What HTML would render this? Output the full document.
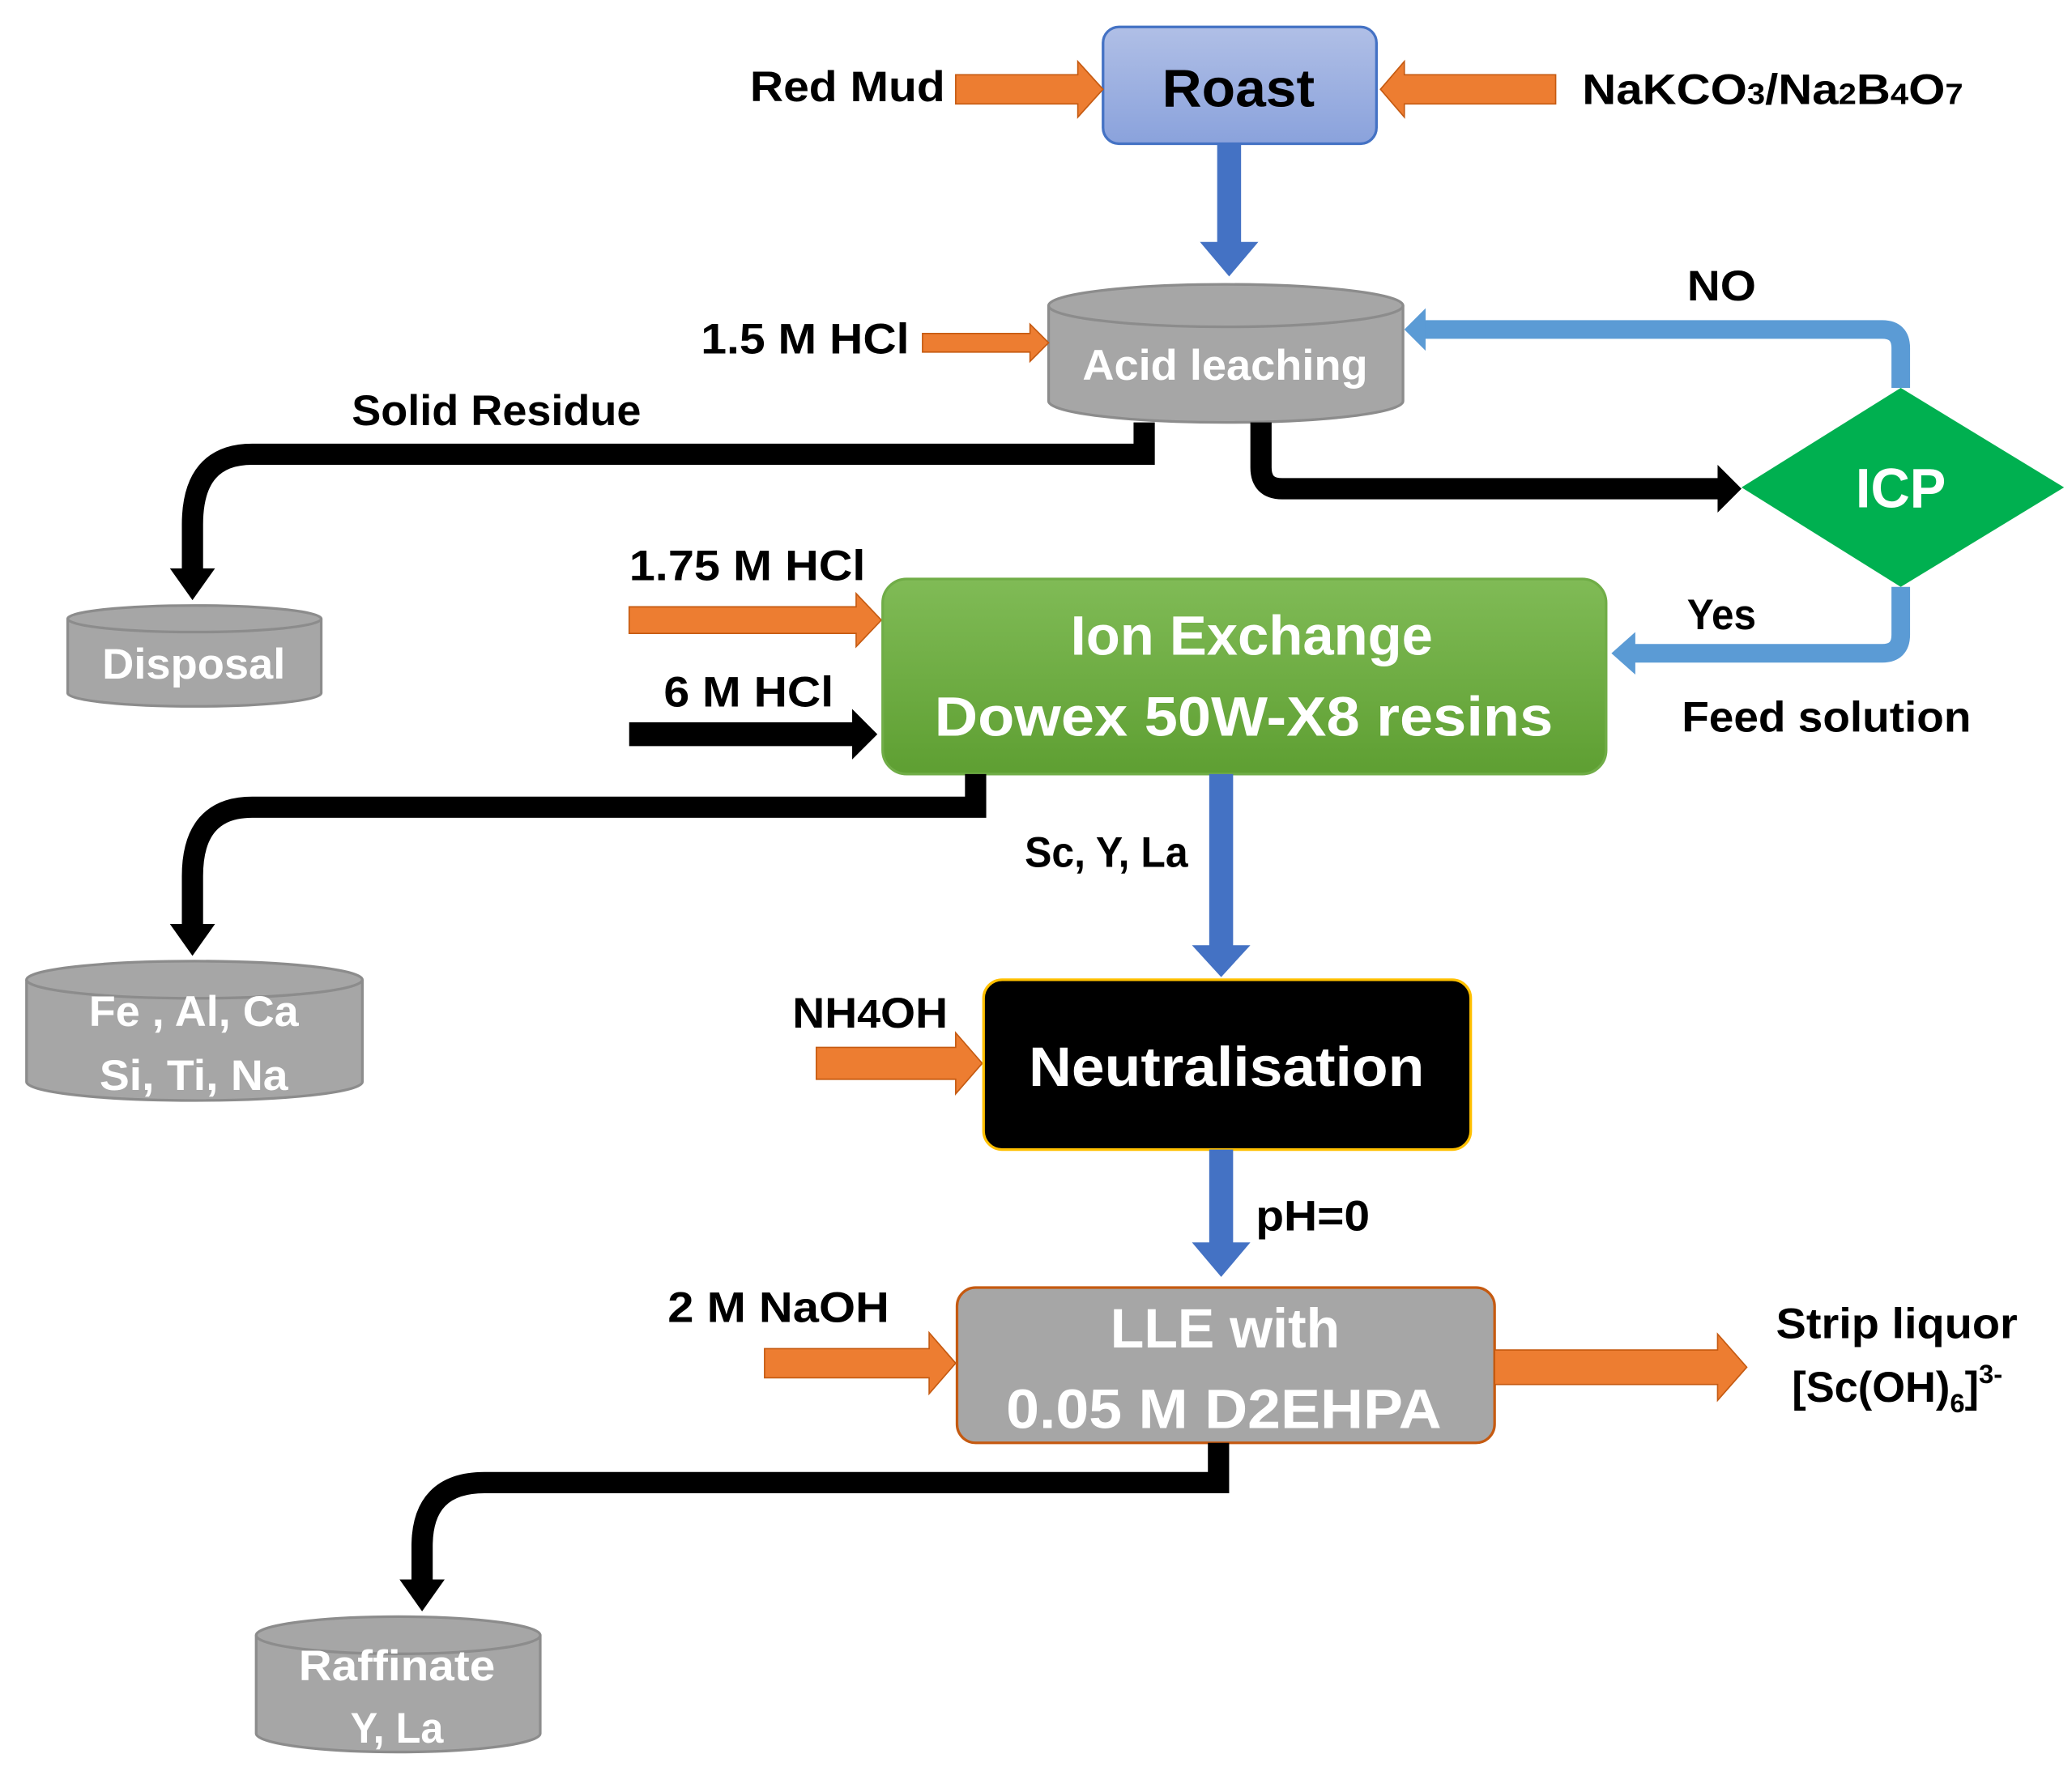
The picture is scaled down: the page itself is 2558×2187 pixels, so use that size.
<!DOCTYPE html>
<html><head><meta charset="utf-8">
<style>
html,body{margin:0;padding:0;background:#fff;}
svg{display:block;}
text{font-family:"Liberation Sans Narrow","Liberation Sans",sans-serif;font-weight:bold;}
</style></head>
<body>
<svg width="2558" height="2187" viewBox="0 0 1561 1334" xmlns="http://www.w3.org/2000/svg">
<defs>
<linearGradient id="gb" x1="0" y1="0" x2="0" y2="1"><stop offset="0" stop-color="#b0bfe6"/><stop offset="1" stop-color="#8aa2dc"/></linearGradient>
<linearGradient id="gg" x1="0" y1="0" x2="0" y2="1"><stop offset="0" stop-color="#80bb56"/><stop offset="1" stop-color="#5e9f32"/></linearGradient>
</defs>
<rect width="1561" height="1334" fill="#fff"/>

<!-- Roast -->
<rect x="831" y="20" width="206" height="88" rx="12" fill="url(#gb)" stroke="#4472c4" stroke-width="2"/>
<text x="933" y="80" font-size="40" text-anchor="middle" textLength="115" lengthAdjust="spacingAndGlyphs" fill="#000">Roast</text>
<text x="712" y="76" font-size="32" text-anchor="end" textLength="147" lengthAdjust="spacingAndGlyphs">Red Mud</text>
<polygon points="720,56 812,56 812,46 831,67 812,88 812,78 720,78" fill="#ed7d31" stroke="#c55a11" stroke-width="1"/>
<polygon points="1172,56 1058,56 1058,46 1040,67 1058,88 1058,78 1172,78" fill="#ed7d31" stroke="#c55a11" stroke-width="1"/>
<text x="1192" y="78" font-size="32" textLength="287" lengthAdjust="spacingAndGlyphs">NaKCO<tspan font-size="22">3</tspan>/Na<tspan font-size="22">2</tspan>B<tspan font-size="22">4</tspan>O<tspan font-size="22">7</tspan></text>

<!-- Roast -> Acid -->
<polygon points="917,108 935,108 935,182 948,182 926,208 904,182 917,182" fill="#4472c4"/>

<!-- Acid leaching cylinder -->
<path d="M790,230 L790,302 A133.5,16 0 0 0 1057,302 L1057,230" fill="#a6a6a6" stroke="#8c8c8c" stroke-width="2"/>
<ellipse cx="923.5" cy="230" rx="133.5" ry="16" fill="#a6a6a6" stroke="#8c8c8c" stroke-width="2"/>
<text x="923" y="286" font-size="32" text-anchor="middle" fill="#fff" textLength="215" lengthAdjust="spacingAndGlyphs">Acid leaching</text>
<text x="685" y="266" font-size="32" text-anchor="end" textLength="157" lengthAdjust="spacingAndGlyphs">1.5 M HCl</text>
<polygon points="695,251 776,251 776,244 790,258 776,272 776,265 695,265" fill="#ed7d31" stroke="#c55a11" stroke-width="1"/>

<!-- NO loop -->
<path d="M1432,292 L1432,262 Q1432,248 1418,248 L1072,248" fill="none" stroke="#5b9bd5" stroke-width="14"/>
<polygon points="1074,232 1058,248 1074,264" fill="#5b9bd5"/>
<text x="1297" y="226" font-size="32" text-anchor="middle" textLength="52" lengthAdjust="spacingAndGlyphs">NO</text>

<!-- ICP -->
<polygon points="1432,292 1555,367 1432,442 1312,367" fill="#00b050"/>
<text x="1432" y="382" font-size="42" text-anchor="middle" fill="#fff" textLength="68" lengthAdjust="spacingAndGlyphs">ICP</text>

<!-- acid -> ICP -->
<path d="M950,318 L950,352 Q950,368 966,368 L1296,368" fill="none" stroke="#000" stroke-width="16"/>
<polygon points="1294,350 1312,368 1294,386" fill="#000"/>

<!-- solid residue -->
<text x="265" y="320" font-size="32" textLength="218" lengthAdjust="spacingAndGlyphs">Solid Residue</text>
<path d="M862,318 L862,342 L190,342 Q145,342 145,395 L145,430" fill="none" stroke="#000" stroke-width="16"/>
<polygon points="128,428 162,428 145,452" fill="#000"/>

<!-- Disposal -->
<path d="M51,466 L51,522 A95.5,10 0 0 0 242,522 L242,466" fill="#a6a6a6" stroke="#8c8c8c" stroke-width="2"/>
<ellipse cx="146.5" cy="466" rx="95.5" ry="10" fill="#a6a6a6" stroke="#8c8c8c" stroke-width="2"/>
<text x="146" y="511" font-size="32" text-anchor="middle" fill="#fff" textLength="138" lengthAdjust="spacingAndGlyphs">Disposal</text>

<!-- HCl inputs -->
<text x="474" y="437" font-size="32" textLength="178" lengthAdjust="spacingAndGlyphs">1.75 M HCl</text>
<polygon points="474,457 645,457 645,447 664,467 645,487 645,477 474,477" fill="#ed7d31" stroke="#c55a11" stroke-width="1"/>
<text x="500" y="532" font-size="32" textLength="128" lengthAdjust="spacingAndGlyphs">6 M HCl</text>
<polygon points="474,544 642,544 642,534 661,553 642,572 642,562 474,562" fill="#000"/>

<!-- Ion Exchange -->
<rect x="665" y="436" width="545" height="147" rx="18" fill="url(#gg)" stroke="#70ad47" stroke-width="2"/>
<text x="943" y="493" font-size="42" text-anchor="middle" fill="#fff" textLength="273" lengthAdjust="spacingAndGlyphs">Ion Exchange</text>
<text x="937" y="554" font-size="42" text-anchor="middle" fill="#fff" textLength="466" lengthAdjust="spacingAndGlyphs">Dowex  50W-X8 resins</text>

<!-- Yes feed -->
<path d="M1432,442 L1432,478 Q1432,492 1418,492 L1230,492" fill="none" stroke="#5b9bd5" stroke-width="14"/>
<polygon points="1232,476 1214,492 1232,508" fill="#5b9bd5"/>
<text x="1297" y="474" font-size="32" text-anchor="middle" textLength="52" lengthAdjust="spacingAndGlyphs">Yes</text>
<text x="1267" y="551" font-size="32" textLength="218" lengthAdjust="spacingAndGlyphs">Feed solution</text>

<!-- IonEx -> Fe -->
<path d="M735,583 L735,608 L190,608 Q145,608 145,660 L145,698" fill="none" stroke="#000" stroke-width="16"/>
<polygon points="128,696 162,696 145,720" fill="#000"/>

<!-- Fe Al Ca cylinder -->
<path d="M20,738 L20,815 A126.5,14 0 0 0 273,815 L273,738" fill="#a6a6a6" stroke="#8c8c8c" stroke-width="2"/>
<ellipse cx="146.5" cy="738" rx="126.5" ry="14" fill="#a6a6a6" stroke="#8c8c8c" stroke-width="2"/>
<text x="146" y="773" font-size="32" text-anchor="middle" fill="#fff" textLength="158" lengthAdjust="spacingAndGlyphs">Fe , Al, Ca</text>
<text x="146" y="821" font-size="32" text-anchor="middle" fill="#fff" textLength="142" lengthAdjust="spacingAndGlyphs">Si, Ti, Na</text>

<!-- IonEx -> Neutralisation -->
<polygon points="911,583 929,583 929,712 942,712 920,736 898,712 911,712" fill="#4472c4"/>
<text x="772" y="653" font-size="32" textLength="123" lengthAdjust="spacingAndGlyphs">Sc, Y, La</text>

<!-- NH4OH -->
<text x="597" y="774" font-size="32" textLength="117" lengthAdjust="spacingAndGlyphs">NH<tspan font-size="30">4</tspan>OH</text>
<polygon points="615,789 720,789 720,778 740,801 720,824 720,813 615,813" fill="#ed7d31" stroke="#c55a11" stroke-width="1"/>

<!-- Neutralisation -->
<rect x="741" y="738" width="367" height="128" rx="14" fill="#000" stroke="#ffc000" stroke-width="2"/>
<text x="924" y="818" font-size="42" text-anchor="middle" fill="#fff" textLength="298" lengthAdjust="spacingAndGlyphs">Neutralisation</text>

<!-- Neut -> LLE -->
<polygon points="911,866 929,866 929,936 942,936 920,962 898,936 911,936" fill="#4472c4"/>
<text x="946" y="927" font-size="32" textLength="86" lengthAdjust="spacingAndGlyphs">pH=0</text>

<!-- NaOH -->
<text x="503" y="996" font-size="32" textLength="167" lengthAdjust="spacingAndGlyphs">2 M NaOH</text>
<polygon points="576,1016 700,1016 700,1004 720,1027 700,1050 700,1038 576,1038" fill="#ed7d31" stroke="#c55a11" stroke-width="1"/>

<!-- LLE -->
<rect x="721" y="970" width="405" height="117" rx="14" fill="#a6a6a6" stroke="#c55a11" stroke-width="2"/>
<text x="923" y="1015" font-size="42" text-anchor="middle" fill="#fff" textLength="173" lengthAdjust="spacingAndGlyphs">LLE with</text>
<text x="922" y="1076" font-size="42" text-anchor="middle" fill="#fff" textLength="328" lengthAdjust="spacingAndGlyphs">0.05 M D2EHPA</text>

<!-- strip -->
<polygon points="1126,1017 1294,1017 1294,1005 1316,1030 1294,1055 1294,1043 1126,1043" fill="#ed7d31" stroke="#c55a11" stroke-width="1"/>
<text x="1338" y="1008" font-size="32" textLength="182" lengthAdjust="spacingAndGlyphs">Strip liquor</text>
<text x="1350" y="1056" font-size="32">[Sc(OH)<tspan font-size="20" dy="8">6</tspan><tspan dy="-8">]</tspan><tspan font-size="20" dy="-14">3-</tspan></text>

<!-- LLE -> Raffinate -->
<path d="M918,1087 L918,1117 L365,1117 Q318,1117 318,1165 L318,1192" fill="none" stroke="#000" stroke-width="16"/>
<polygon points="301,1190 335,1190 318,1214" fill="#000"/>

<!-- Raffinate -->
<path d="M193,1232 L193,1306 A107,14 0 0 0 407,1306 L407,1232" fill="#a6a6a6" stroke="#8c8c8c" stroke-width="2"/>
<ellipse cx="300" cy="1232" rx="107" ry="14" fill="#a6a6a6" stroke="#8c8c8c" stroke-width="2"/>
<text x="299" y="1266" font-size="32" text-anchor="middle" fill="#fff" textLength="148" lengthAdjust="spacingAndGlyphs">Raffinate</text>
<text x="299" y="1313" font-size="32" text-anchor="middle" fill="#fff" textLength="70" lengthAdjust="spacingAndGlyphs">Y, La</text>
</svg>
</body></html>
